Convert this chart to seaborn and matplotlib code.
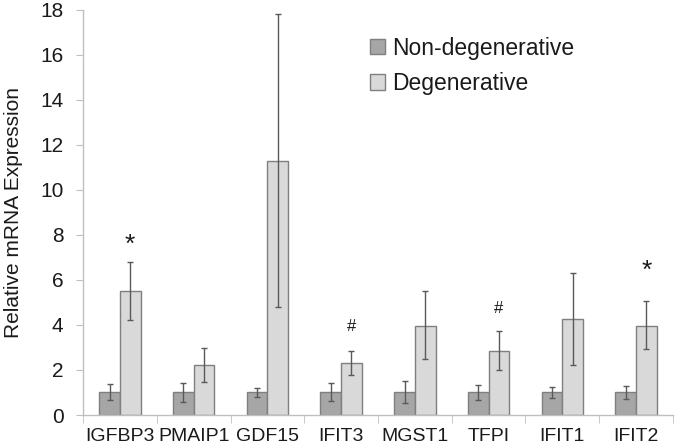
import numpy as np
import pandas as pd
import seaborn as sns
import matplotlib.pyplot as plt

# values
genes = ["IGFBP3", "PMAIP1", "GDF15", "IFIT3", "MGST1", "TFPI", "IFIT1", "IFIT2"]
non_deg = [1.0, 1.0, 1.0, 1.0, 1.0, 1.0, 1.0, 1.0]
non_deg_hi = [1.36, 1.41, 1.21, 1.41, 1.51, 1.34, 1.25, 1.30]
non_deg_lo = [0.67, 0.59, 0.79, 0.60, 0.52, 0.67, 0.76, 0.73]
deg = [5.51, 2.20, 11.30, 2.31, 3.97, 2.86, 4.27, 3.97]
deg_hi = [6.80, 2.96, 17.80, 2.83, 5.53, 3.72, 6.30, 5.05]
deg_lo = [4.24, 1.47, 4.81, 1.76, 2.47, 1.99, 2.24, 2.93]
marks = {"IGFBP3": ("*", 7.55), "IFIT3": ("#", 3.95), "TFPI": ("#", 4.75), "IFIT2": ("*", 6.40)}

groups = ["Non-degenerative", "Degenerative"]
colors = ["#a6a6a6", "#d9d9d9"]

df = pd.DataFrame({
    "Gene": genes * 2,
    "Group": [groups[0]] * len(genes) + [groups[1]] * len(genes),
    "Value": non_deg + deg,
})

sns.set_style("white")
plt.rcParams["font.family"] = ["Liberation Sans", "DejaVu Sans"]

fig = plt.figure(figsize=(6.75, 4.46), dpi=100)
ax = fig.add_axes([0.123, 0.0695, 0.874, 0.9085])

sns.barplot(data=df, x="Gene", y="Value", hue="Group", order=genes,
            hue_order=groups, palette=colors, errorbar=None, width=0.56,
            gap=0, edgecolor="#7f7f7f", linewidth=1.0, saturation=1, ax=ax)

# asymmetric error bars placed on the drawn bars
for cont, vals, hi, lo in zip(ax.containers, [non_deg, deg],
                              [non_deg_hi, deg_hi], [non_deg_lo, deg_lo]):
    xs = [p.get_x() + p.get_width() / 2 for p in cont.patches]
    v = np.array(vals)
    err = [v - np.array(lo), np.array(hi) - v]
    ax.errorbar(xs, v, yerr=err, fmt="none", ecolor="#595959",
                elinewidth=1.0, capsize=2.5, capthick=1.0)

    if cont is ax.containers[1]:
        for g, x in zip(genes, xs):
            if g in marks:
                sym, y = marks[g]
                size = 19 if sym == "*" else 12
                ax.text(x, y, sym, ha="center", va="center", fontsize=size,
                        color="#1a1a1a")

ax.set_ylim(0, 18)
ax.set_xlim(-0.5, len(genes) - 0.5)
ax.set_yticks(range(0, 19, 2))
ax.set_xlabel("")
ax.set_ylabel("Relative mRNA Expression", fontsize=15, color="#1a1a1a")
ax.yaxis.set_label_coords(-0.102, 0.5)

for s in ["top", "right"]:
    ax.spines[s].set_visible(False)
for s in ["left", "bottom"]:
    ax.spines[s].set_color("#bfbfbf")
    ax.spines[s].set_linewidth(1.0)

ax.tick_params(axis="y", labelsize=15, colors="#1a1a1a")
ax.tick_params(axis="x", labelsize=14, colors="#1a1a1a")
ax.tick_params(axis="y", length=5, color="#bfbfbf", direction="out", left=True, pad=9)
ax.tick_params(axis="x", which="major", length=0, pad=9)
ax.set_xticks(np.arange(-0.5, len(genes)), minor=True)
ax.tick_params(axis="x", which="minor", length=6, color="#bfbfbf",
               direction="out", bottom=True)

leg = ax.legend(loc="upper left", bbox_to_anchor=(0.452, 0.985), frameon=False,
                fontsize=16.5, handlelength=0.65, handleheight=0.65,
                handletextpad=0.3, labelspacing=0.55)
for t in leg.get_texts():
    t.set_color("#1a1a1a")

fig.savefig("out.png", dpi=100)
